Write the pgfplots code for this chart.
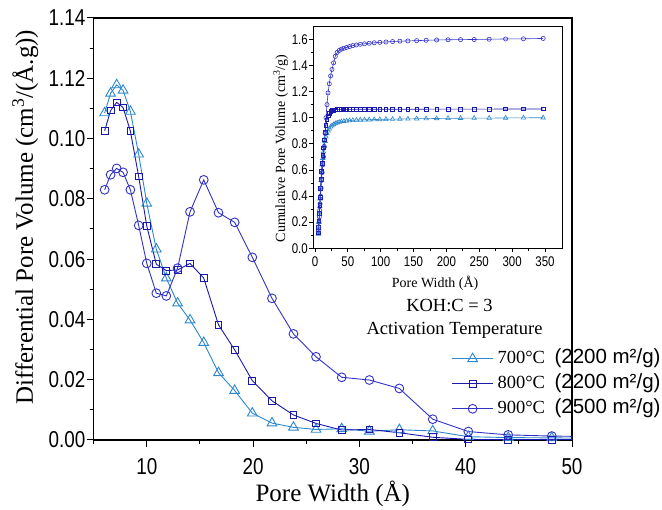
\documentclass[border=0pt]{standalone}
\usepackage{fontspec}
\setmainfont{Liberation Serif}
\setsansfont{Liberation Sans}
\newfontfamily\narrow{Liberation Sans}[FakeStretch=0.82]
\usepackage{pgfplots}
\pgfplotsset{compat=1.18}
\usepackage{pgfplotstable}
\definecolor{cA}{RGB}{45,135,205}
\definecolor{cB}{RGB}{25,25,175}
\definecolor{cC}{RGB}{50,50,200}

\pgfplotstableread{
x y
6.04 0.1085
6.60 0.1150
7.17 0.1178
7.77 0.1160
8.46 0.1090
9.24 0.0948
10.00 0.0785
10.90 0.0633
11.84 0.0537
12.90 0.0454
14.07 0.0398
15.36 0.0323
16.75 0.0223
18.27 0.0164
19.93 0.0089
21.78 0.0056
23.80 0.0042
25.92 0.0035
28.34 0.0037
30.94 0.0029
33.76 0.0034
36.90 0.0030
40.25 0.0011
44.00 0.0008
48.10 0.0007
52.60 0.0006
}\mainA
\pgfplotstableread{
x y
6.04 0.1026
6.60 0.1093
7.17 0.1120
7.77 0.1103
8.46 0.1025
9.24 0.0874
10.00 0.0710
10.90 0.0583
11.84 0.0562
12.90 0.0564
14.07 0.0586
15.36 0.0537
16.75 0.0382
18.27 0.0299
19.93 0.0197
21.78 0.0130
23.80 0.0083
25.92 0.0055
28.34 0.0033
30.94 0.0035
33.76 0.0024
36.90 0.0009
40.25 0.0002
44.00 0.0001
48.10 0.0001
52.60 0.0001
}\mainB
\pgfplotstableread{
x y
6.04 0.0830
6.60 0.0880
7.17 0.0901
7.77 0.0888
8.46 0.0830
9.24 0.0712
10.00 0.0586
10.90 0.0487
11.84 0.0478
12.90 0.0570
14.07 0.0757
15.36 0.0863
16.75 0.0754
18.27 0.0722
19.93 0.0606
21.78 0.0470
23.80 0.0352
25.92 0.0276
28.34 0.0208
30.94 0.0199
33.76 0.0171
36.90 0.0069
40.25 0.0028
44.00 0.0017
48.10 0.0013
52.60 0.0011
}\mainC

\pgfplotstableread{
x y
5.0 0.11
5.5 0.15
6.04 0.20
6.60 0.26
7.17 0.32
7.77 0.38
8.46 0.45
9.24 0.52
10.00 0.58
10.90 0.64
11.84 0.69
12.90 0.74
14.07 0.78
15.36 0.82
16.75 0.855
18.27 0.88
19.93 0.90
21.78 0.915
23.80 0.930
25.92 0.940
28.34 0.948
30.94 0.955
33.76 0.961
36.90 0.966
40.25 0.970
44.00 0.973
48.10 0.976
52.6 0.978
57.6 0.980
63.0 0.982
68.9 0.983
75.4 0.984
82.5 0.985
90.2 0.986
98.7 0.987
108.0 0.988
118.1 0.989
129.2 0.990
141.4 0.991
154.7 0.992
169.2 0.993
185.1 0.994
202.5 0.995
221.5 0.996
242.3 0.997
265.1 0.997
290.1 0.998
317.3 0.999
347.2 1.000
}\cumA
\pgfplotstableread{
x y
5.0 0.12
5.5 0.16
6.04 0.21
6.60 0.27
7.17 0.33
7.77 0.39
8.46 0.46
9.24 0.53
10.00 0.59
10.90 0.65
11.84 0.71
12.90 0.77
14.07 0.83
15.36 0.89
16.75 0.94
18.27 0.985
19.93 1.015
21.78 1.035
23.80 1.048
25.92 1.055
28.34 1.059
30.94 1.062
33.76 1.063
36.90 1.064
40.25 1.064
44.00 1.064
48.10 1.064
52.6 1.064
57.6 1.064
63.0 1.065
68.9 1.065
75.4 1.065
82.5 1.065
90.2 1.065
98.7 1.065
108.0 1.065
118.1 1.065
129.2 1.065
141.4 1.065
154.7 1.065
169.2 1.065
185.1 1.066
202.5 1.066
221.5 1.066
242.3 1.066
265.1 1.066
290.1 1.067
317.3 1.067
347.2 1.067
}\cumB
\pgfplotstableread{
x y
5.0 0.13
5.5 0.16
6.04 0.20
6.60 0.24
7.17 0.29
7.77 0.34
8.46 0.40
9.24 0.46
10.00 0.52
10.90 0.58
11.84 0.64
12.90 0.70
14.07 0.78
15.36 0.88
16.75 1.00
18.27 1.10
19.93 1.19
21.78 1.26
23.80 1.32
25.92 1.37
28.34 1.42
30.94 1.47
33.76 1.50
36.90 1.515
40.25 1.525
44.00 1.532
48.10 1.538
52.6 1.545
57.6 1.552
63.0 1.557
68.9 1.562
75.4 1.566
82.5 1.570
90.2 1.574
98.7 1.577
108.0 1.580
118.1 1.583
129.2 1.586
141.4 1.588
154.7 1.590
169.2 1.593
185.1 1.595
202.5 1.597
221.5 1.598
242.3 1.599
265.1 1.601
290.1 1.603
317.3 1.604
347.2 1.607
}\cumC

\begin{document}
\begin{tikzpicture}
\useasboundingbox (-93.6pt,-70pt) rectangle (568.4pt,440pt);
\begin{axis}[
  scale only axis, width=478.4pt, height=422pt,
  xmin=5, xmax=50, ymin=0, ymax=0.14,
  axis line style={line width=1.1pt},
  tick pos=left, tick align=outside,
  major tick length=7pt, minor tick length=4pt,
  every tick/.style={black, line width=1pt},
  xtick={10,20,30,40,50}, minor xtick={5,15,25,35,45},
  ytick={0,0.02,0.04,0.06,0.08,0.10,0.12,0.14},
  minor ytick={0.01,0.03,0.05,0.07,0.09,0.11,0.13},
  yticklabels={0.00,0.02,0.04,0.06,0.08,0.10,1.12,1.14},
  /pgf/number format/assume math mode=true,
  tick label style={font=\narrow\fontsize{23}{23}\selectfont, inner sep=1pt},
  xticklabel style={yshift=-10pt},
  xlabel={Pore Width (Å)},
  ylabel={Differential Pore Volume (cm\textsuperscript{3}/(Å.g))},
  label style={font=\fontsize{25}{30}\selectfont},
  xlabel style={at={(axis description cs:0.5,-0.1469)}, anchor=base},
  ylabel style={at={(axis description cs:-0.1267,0.528)}, anchor=base},
  legend style={at={(axis description cs:0.7485,0.2126)}, anchor=north west,
    draw=none, fill=none, inner sep=0pt, outer sep=0pt,
    row sep=8pt, column sep=4pt,
    font=\fontsize{18.5}{20}\selectfont,
    nodes={inner sep=0pt, text height=13pt, text depth=4pt}},
  legend cell align=left,
  legend image code/.code={\draw[mark repeat=2,mark phase=2,#1] plot coordinates {(0pt,0pt) (20.5pt,0pt) (41pt,0pt)};},
]
\addplot[cA, line width=0.9pt, mark=triangle, mark size=5.6pt, mark options={solid, fill=white, line width=0.9pt}] table {\mainA};
\addlegendentry{700°C\hspace{9.5pt}{\sffamily\fontsize{20.5}{22}\selectfont (2200 m²/g)}}
\addplot[cB, line width=0.9pt, mark=square, mark size=3.4pt, mark options={solid, fill=white, line width=0.9pt}] table {\mainB};
\addlegendentry{800°C\hspace{9.5pt}{\sffamily\fontsize{20.5}{22}\selectfont (2200 m²/g)}}
\addplot[cC, line width=0.9pt, mark=o, mark size=4.4pt, mark options={solid, fill=white, line width=0.9pt}] table {\mainC};
\addlegendentry{900°C\hspace{9.5pt}{\sffamily\fontsize{20.5}{22}\selectfont (2500 m²/g)}}
\end{axis}

\begin{axis}[
  at={(219.4pt,191.7pt)}, anchor=south west,
  scale only axis, width=249.7pt, height=221.6pt,
  xmin=-3, xmax=377, ymin=0, ymax=1.697,
  axis line style={line width=0.8pt},
  tick pos=left, tick align=outside,
  major tick length=4pt, minor tick length=2.5pt,
  every tick/.style={black, line width=0.7pt},
  xtick={0,50,100,150,200,250,300,350},
  minor xtick={25,75,125,175,225,275,325},
  ytick={0,0.2,0.4,0.6,0.8,1.0,1.2,1.4,1.6},
  minor ytick={0.1,0.3,0.5,0.7,0.9,1.1,1.3,1.5},
  yticklabels={0.0,0.2,0.4,0.6,0.8,1.0,1.2,1.4,1.6},
  /pgf/number format/assume math mode=true,
  tick label style={font=\narrow\fontsize{14}{14}\selectfont, inner sep=1pt},
  xticklabel style={yshift=-3pt},
  xlabel={Pore Width (Å)},
  ylabel={Cumulative Pore Volume (cm\textsuperscript{3}/g)},
  label style={font=\fontsize{14}{16}\selectfont},
  xlabel style={at={(axis description cs:0.489,-0.179)}, anchor=base},
  ylabel style={at={(axis description cs:-0.112,0.45)}, anchor=base},
]
\addplot[cA, line width=0.6pt, mark=triangle, mark size=2.6pt, mark options={solid, fill=white, line width=0.6pt}] table {\cumA};
\addplot[cB, line width=0.6pt, mark=square, mark size=1.8pt, mark options={solid, fill=white, line width=0.6pt}] table {\cumB};
\addplot[cC, line width=0.6pt, mark=o, mark size=2.1pt, mark options={solid, fill=white, line width=0.6pt}] table {\cumC};
\end{axis}

\node[anchor=base, font=\fontsize{18.5}{20}\selectfont] at (355.9pt,128pt) {KOH:C = 3};
\node[anchor=base, font=\fontsize{18.5}{20}\selectfont] at (360.9pt,105.7pt) {Activation Temperature};
\end{tikzpicture}
\end{document}
